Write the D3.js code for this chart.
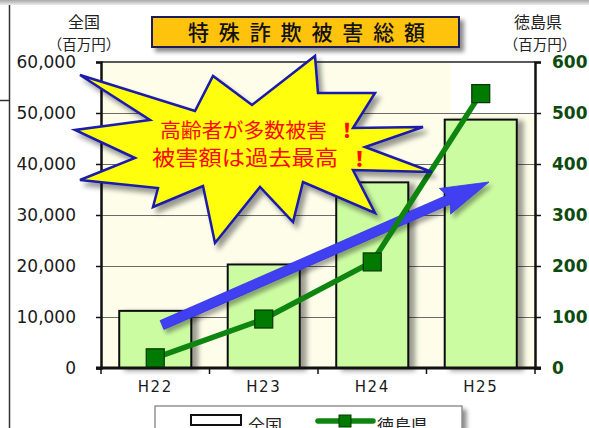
<!DOCTYPE html>
<html lang="ja">
<head>
<meta charset="utf-8">
<script src="https://cdn.jsdelivr.net/npm/d3@7"></script>
<style>
  html, body { margin: 0; padding: 0; background: #ffffff; }
  svg { display: block; }
</style>
</head>
<body>
<svg id="chart" width="589" height="428"></svg>
<script>
// 特殊詐欺被害総額（全国：百万円／徳島県：百万円）
const categories = ["H22", "H23", "H24", "H25"];
const nationalValues = [11200, 20300, 36400, 48700];
const tokushimaValues = [20, 96, 208, 538];
const leftTicks = [0, 10000, 20000, 30000, 40000, 50000, 60000];
const rightTicks = [0, 100, 200, 300, 400, 500, 600];
const seriesNames = ["全国", "徳島県"];
const titleText = "特殊詐欺被害総額";
const calloutLines = ["高齢者が多数被害", "被害額は過去最高"];

const JP = "'Noto Sans CJK JP', 'Noto Sans', sans-serif";
const svg = d3.select("#chart");
const plot = { left: 101, right: 535, top: 62, bottom: 368 };

// filters for drop shadows
const defs = svg.append("defs");
function shadow(id, dx, dy, sd, op) {
  defs.append("filter").attr("id", id)
    .attr("x", "-20%").attr("y", "-20%").attr("width", "150%").attr("height", "150%")
    .append("feDropShadow")
    .attr("dx", dx).attr("dy", dy).attr("stdDeviation", sd)
    .attr("flood-color", "#000").attr("flood-opacity", op);
}
shadow("barShadow", 6, 2, 2.5, 0.38);
shadow("boxShadow", 4, 4, 2, 0.45);
shadow("burstShadow", 4, 5, 2.5, 0.4);
shadow("arrowShadow", 3, 4, 2, 0.35);

const topGrad = defs.append("linearGradient").attr("id", "topBand")
  .attr("x1", 0).attr("y1", 0).attr("x2", 0).attr("y2", 1);
topGrad.append("stop").attr("offset", "0%").attr("stop-color", "#a8a8a8");
topGrad.append("stop").attr("offset", "100%").attr("stop-color", "#ececec");

// page frame
svg.append("rect").attr("x", 0).attr("y", 0).attr("width", 589).attr("height", 5)
  .attr("fill", "url(#topBand)");
svg.append("line").attr("x1", 9.5).attr("x2", 9.5).attr("y1", 5).attr("y2", 428)
  .attr("stroke", "#333").attr("stroke-width", 1.5);
svg.append("line").attr("x1", 0).attr("x2", 9.5).attr("y1", 100.5).attr("y2", 100.5)
  .attr("stroke", "#333").attr("stroke-width", 1.5);

// scales
const x = d3.scaleBand().domain(categories)
  .range([plot.left, plot.right]).paddingInner(0.336).paddingOuter(0.168);
const yL = d3.scaleLinear().domain([0, 60000]).range([plot.bottom, plot.top]);
const yR = d3.scaleLinear().domain([0, 600]).range([plot.bottom, plot.top]);

// plot background
svg.append("rect")
  .attr("x", plot.left).attr("y", plot.top)
  .attr("width", plot.right - plot.left).attr("height", plot.bottom - plot.top)
  .attr("fill", "#fdfdea");
svg.append("rect")
  .attr("x", x("H25") + 6).attr("y", plot.top)
  .attr("width", plot.right - x("H25") - 6).attr("height", yL(50000) - plot.top)
  .attr("fill", "#ffffff");

// gridlines
svg.append("g").selectAll("line").data(leftTicks.filter(d => d > 0 && d < 60000)).join("line")
  .attr("x1", plot.left).attr("x2", plot.right)
  .attr("y1", d => Math.round(yL(d)) + 0.5).attr("y2", d => Math.round(yL(d)) + 0.5)
  .attr("stroke", "#6a6a6a").attr("stroke-width", 1);

// bars (全国)
svg.append("g").selectAll("rect").data(nationalValues).join("rect")
  .attr("x", (d, i) => x(categories[i]))
  .attr("y", d => yL(d))
  .attr("width", x.bandwidth())
  .attr("height", d => yL(0) - yL(d))
  .attr("fill", "#ccfca2")
  .attr("stroke", "#111").attr("stroke-width", 2)
  .attr("filter", "url(#barShadow)");

// plot frame top
svg.append("line").attr("x1", plot.left).attr("x2", plot.right)
  .attr("y1", plot.top).attr("y2", plot.top)
  .attr("stroke", "#222").attr("stroke-width", 1.5);

// left axis
const axL = svg.append("g").attr("transform", `translate(${plot.left},0)`)
  .call(d3.axisLeft(yL).tickValues(leftTicks).tickSize(5).tickPadding(20)
    .tickFormat(d3.format(",")));
axL.select(".domain").attr("stroke", "#111").attr("stroke-width", 2.5);
axL.selectAll(".tick line").attr("stroke", "#111").attr("stroke-width", 1.5);
axL.selectAll("text").attr("font-family", "'DejaVu Sans', sans-serif")
  .attr("font-size", 17).attr("fill", "#1a1a1a");

// right axis
const axR = svg.append("g").attr("transform", `translate(${plot.right},0)`)
  .call(d3.axisRight(yR).tickValues(rightTicks).tickSize(6).tickPadding(11));
axR.select(".domain").attr("stroke", "#111").attr("stroke-width", 2.5);
axR.selectAll(".tick line").attr("stroke", "#111").attr("stroke-width", 1.5);
axR.selectAll("text").attr("font-family", "'DejaVu Sans', sans-serif")
  .attr("font-weight", "bold").attr("font-size", 17).attr("fill", "#0d4a0d");

// bottom axis with category dividers
const axB = svg.append("g").attr("transform", `translate(0,${plot.bottom})`)
  .call(d3.axisBottom(x).tickSize(0).tickPadding(13));
axB.select(".domain").remove();
axB.selectAll("text").attr("font-family", "'DejaVu Sans', sans-serif")
  .attr("font-size", 15).attr("letter-spacing", 1.5).attr("fill", "#1a1a1a");
const dividers = categories.map(c => x(c) - x.step() * x.paddingInner() / 2)
  .concat([plot.right]);
svg.append("g").selectAll("line").data(dividers).join("line")
  .attr("x1", d => d).attr("x2", d => d)
  .attr("y1", plot.bottom).attr("y2", plot.bottom + 6)
  .attr("stroke", "#111").attr("stroke-width", 1.5);
svg.append("line").attr("x1", plot.left - 5).attr("x2", plot.right + 6)
  .attr("y1", plot.bottom).attr("y2", plot.bottom)
  .attr("stroke", "#111").attr("stroke-width", 3);

// trend arrow
(function () {
  const tail = [162, 325], tip = [489, 182];
  const dx = tip[0] - tail[0], dy = tip[1] - tail[1];
  const len = Math.hypot(dx, dy);
  const u = [dx / len, dy / len], n = [-u[1], u[0]];
  const hw = 4.8, headL = 44, headW = 14;
  const base = [tip[0] - u[0] * headL, tip[1] - u[1] * headL];
  const P = (p, k, m) => [p[0] + n[0] * k + u[0] * m, p[1] + n[1] * k + u[1] * m];
  const pts = [
    P(tail, hw, 0), P(base, hw, 0), P(base, headW, -4), tip,
    P(base, -headW, -4), P(base, -hw, 0), P(tail, -hw, 0)
  ];
  svg.append("path").attr("d", d3.line()(pts) + "Z")
    .attr("fill", "#3f3ff2").attr("stroke", "#3434e0").attr("stroke-width", 0.8)
    .attr("stroke-linejoin", "round").attr("filter", "url(#arrowShadow)");
})();

// line (徳島県)
const lineGen = d3.line()
  .x((d, i) => x(categories[i]) + x.bandwidth() / 2)
  .y(d => yR(d));
svg.append("path").datum(tokushimaValues)
  .attr("d", lineGen).attr("fill", "none")
  .attr("stroke", "#0e850e").attr("stroke-width", 5.5).attr("stroke-linejoin", "round");
const mk = 18;
svg.append("g").selectAll("rect").data(tokushimaValues).join("rect")
  .attr("x", (d, i) => x(categories[i]) + x.bandwidth() / 2 - mk / 2)
  .attr("y", d => yR(d) - mk / 2)
  .attr("width", mk).attr("height", mk)
  .attr("fill", "#007a00").attr("stroke", "#053805").attr("stroke-width", 1.2);

// starburst callout
const burst = [
  [80, 75], [195, 111], [213, 76], [252, 105], [315, 56], [318, 93], [375, 93],
  [353, 128], [423, 127], [365, 147], [432, 172], [353, 170], [375, 213],
  [303, 182], [293, 222], [260, 187], [215, 243], [203, 186], [153, 207],
  [158, 188], [80, 180], [135, 158], [75, 130], [150, 120]
];
svg.append("path").attr("d", d3.line()(burst) + "Z")
  .attr("fill", "#ffff10").attr("stroke", "#1a1aa8").attr("stroke-width", 2.5)
  .attr("stroke-linejoin", "miter").attr("filter", "url(#burstShadow)");
const callout = svg.append("g").attr("font-family", JP).attr("fill", "#ff0a0a");
callout.append("text").attr("x", 160).attr("y", 138).attr("font-size", 20)
  .attr("textLength", 167).attr("lengthAdjust", "spacingAndGlyphs")
  .text(calloutLines[0]);
callout.append("text").attr("x", 337).attr("y", 138).attr("font-size", 20)
  .attr("font-weight", 900).text("！");
callout.append("text").attr("x", 152).attr("y", 165).attr("font-size", 21)
  .attr("textLength", 186).attr("lengthAdjust", "spacingAndGlyphs")
  .text(calloutLines[1]);
callout.append("text").attr("x", 349).attr("y", 166).attr("font-size", 21)
  .attr("font-weight", 900).text("！");

// title box
svg.append("rect").attr("x", 152).attr("y", 17).attr("width", 307).attr("height", 30)
  .attr("fill", "#ffc20e").attr("stroke", "#1e1b5a").attr("stroke-width", 2)
  .attr("filter", "url(#boxShadow)");
svg.append("text").attr("x", 188).attr("y", 40)
  .attr("font-family", JP).attr("font-size", 21).attr("font-weight", 500)
  .attr("fill", "#111").attr("textLength", 237).attr("lengthAdjust", "spacing")
  .text(titleText);

// axis unit captions
const cap = svg.append("g").attr("font-family", JP).attr("fill", "#222")
  .attr("text-anchor", "middle");
cap.append("text").attr("x", 84).attr("y", 28).attr("font-size", 16).text(seriesNames[0]);
cap.append("text").attr("x", 84).attr("y", 50).attr("font-size", 14.5).text("（百万円）");
cap.append("text").attr("x", 538).attr("y", 28).attr("font-size", 16).text(seriesNames[1]);
cap.append("text").attr("x", 540).attr("y", 50).attr("font-size", 14.5).text("（百万円）");

// legend
const lg = svg.append("g");
lg.append("rect").attr("x", 155).attr("y", 406).attr("width", 307).attr("height", 40)
  .attr("fill", "#ffffff").attr("stroke", "#7a7a7a").attr("stroke-width", 1.2)
  .attr("filter", "url(#boxShadow)");
lg.append("rect").attr("x", 191).attr("y", 415).attr("width", 50).attr("height", 10)
  .attr("fill", "#ffffff").attr("stroke", "#111").attr("stroke-width", 2);
lg.append("text").attr("x", 248).attr("y", 432).attr("font-family", JP)
  .attr("font-size", 17).attr("fill", "#222").text(seriesNames[0]);
lg.append("line").attr("x1", 318).attr("x2", 373).attr("y1", 421).attr("y2", 421)
  .attr("stroke", "#0e850e").attr("stroke-width", 5.5).attr("stroke-linecap", "round");
lg.append("rect").attr("x", 339).attr("y", 415).attr("width", 12).attr("height", 12)
  .attr("fill", "#007a00").attr("stroke", "#053805").attr("stroke-width", 1);
lg.append("text").attr("x", 377).attr("y", 432).attr("font-family", JP)
  .attr("font-size", 17).attr("fill", "#222").text(seriesNames[1]);
</script>
</body>
</html>
